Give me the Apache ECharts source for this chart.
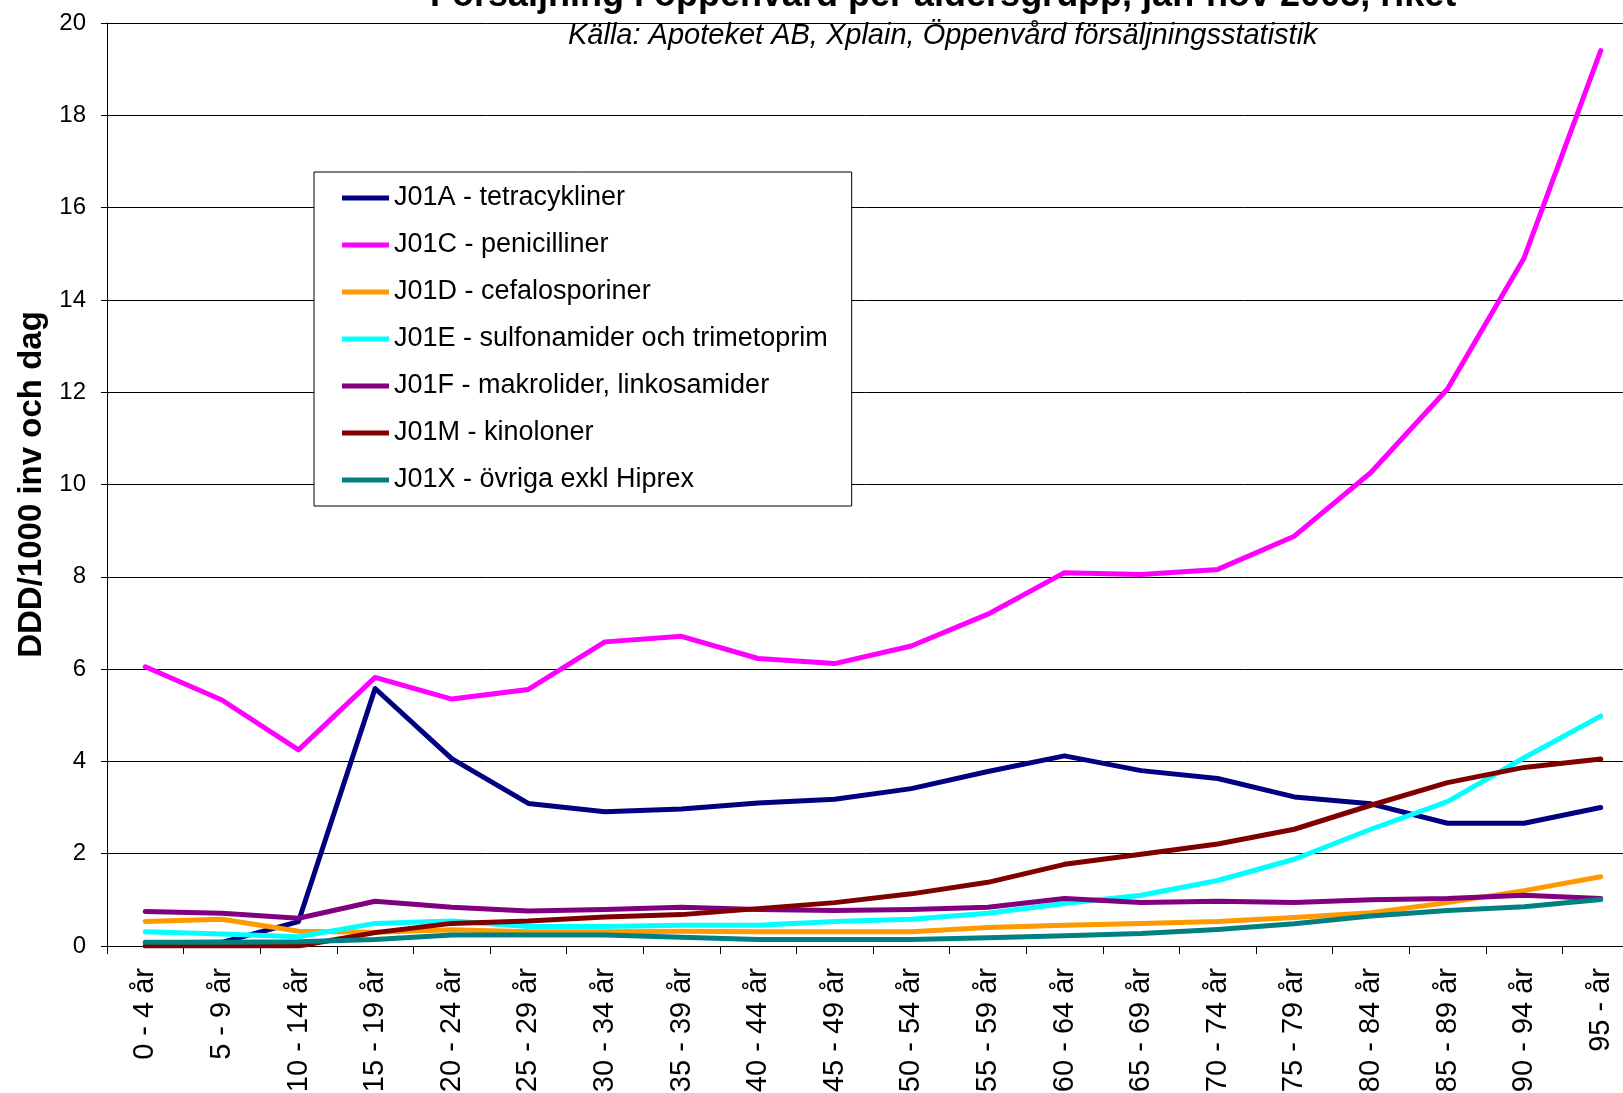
<!DOCTYPE html>
<html>
<head>
<meta charset="utf-8">
<script src="https://cdn.jsdelivr.net/npm/echarts@6/dist/echarts.min.js"></script>
<style>
  html, body { margin: 0; padding: 0; background: #fff; }
  #chart { width: 1623px; height: 1093px; }
</style>
</head>
<body>
<div id="chart"></div>
<script>
// age groups
const ageGroups = [
  '0 - 4 år', '5 - 9 år', '10 - 14 år', '15 - 19 år', '20 - 24 år',
  '25 - 29 år', '30 - 34 år', '35 - 39 år', '40 - 44 år', '45 - 49 år',
  '50 - 54 år', '55 - 59 år', '60 - 64 år', '65 - 69 år', '70 - 74 år',
  '75 - 79 år', '80 - 84 år', '85 - 89 år', '90 - 94 år', '95 - år'
]

const j01a = [0.07, 0.08, 0.53, 5.58, 4.06, 3.09, 2.91, 2.97, 3.10, 3.18, 3.41, 3.78, 4.12, 3.80, 3.63, 3.23, 3.08, 2.66, 2.66, 3.00]
const j01c = [6.05, 5.33, 4.25, 5.82, 5.35, 5.56, 6.59, 6.71, 6.23, 6.12, 6.50, 7.19, 8.09, 8.05, 8.16, 8.88, 10.26, 12.07, 14.91, 19.40]
const j01d = [0.53, 0.58, 0.32, 0.30, 0.35, 0.31, 0.31, 0.32, 0.31, 0.31, 0.31, 0.40, 0.45, 0.49, 0.53, 0.62, 0.72, 0.94, 1.20, 1.50]
const j01e = [0.31, 0.26, 0.20, 0.49, 0.54, 0.42, 0.42, 0.45, 0.45, 0.53, 0.58, 0.71, 0.92, 1.10, 1.42, 1.88, 2.53, 3.13, 4.08, 4.98]
const j01f = [0.75, 0.71, 0.60, 0.97, 0.84, 0.76, 0.79, 0.84, 0.79, 0.77, 0.79, 0.84, 1.03, 0.94, 0.97, 0.94, 1.00, 1.03, 1.10, 1.03]
const j01m = [0.00, 0.00, 0.00, 0.29, 0.49, 0.54, 0.63, 0.68, 0.81, 0.94, 1.13, 1.38, 1.77, 1.99, 2.21, 2.53, 3.05, 3.54, 3.87, 4.05]
const j01x = [0.08, 0.08, 0.09, 0.14, 0.24, 0.24, 0.24, 0.19, 0.14, 0.14, 0.14, 0.18, 0.22, 0.27, 0.36, 0.48, 0.65, 0.77, 0.85, 1.01]

const seriesNames = [
  'J01A - tetracykliner',
  'J01C - penicilliner',
  'J01D - cefalosporiner',
  'J01E - sulfonamider och trimetoprim',
  'J01F - makrolider, linkosamider',
  'J01M - kinoloner',
  'J01X - övriga exkl Hiprex'
]
const seriesData = [j01a, j01c, j01d, j01e, j01f, j01m, j01x]
const seriesColors = ['#000080', '#ff00ff', '#ff9900', '#00ffff', '#800080', '#800000', '#008080']

const font = 'Liberation Sans, Arial, sans-serif'

const chart = echarts.init(document.getElementById('chart'))

const option = {
  backgroundColor: '#fff',
  animation: false,
  title: [
    {
      text: 'Försäljning i öppenvård per åldersgrupp, jan-nov 2005, riket',
      left: 430,
      top: -22,
      padding: 0,
      textStyle: { fontFamily: font, fontSize: 36, fontWeight: 'bold', color: '#000' }
    },
    {
      text: 'Källa: Apoteket AB, Xplain, Öppenvård försäljningsstatistik',
      left: 568,
      top: 21,
      padding: 0,
      textStyle: { fontFamily: font, fontSize: 29, fontStyle: 'italic', fontWeight: 'normal', color: '#000' }
    }
  ],
  legend: {
    orient: 'vertical',
    left: 314,
    top: 172,
    padding: [11, 24, 11, 28],
    backgroundColor: '#fff',
    borderColor: '#000',
    borderWidth: 1,
    icon: 'rect',
    itemWidth: 47,
    itemHeight: 5,
    itemGap: 17,
    textStyle: { fontFamily: font, fontSize: 27, lineHeight: 30, color: '#000' },
    data: seriesNames
  },
  grid: {
    left: 107,
    top: 23,
    width: 1532,
    height: 923,
    containLabel: false,
    outerBoundsMode: 'none'
  },
  xAxis: {
    type: 'category',
    data: ageGroups,
    boundaryGap: true,
    axisLine: { lineStyle: { color: '#000', width: 1 } },
    axisTick: { show: true, length: 8, lineStyle: { color: '#000' } },
    axisLabel: {
      rotate: 90,
      margin: 22,
      interval: 0,
      fontFamily: font,
      fontSize: 29,
      color: '#000'
    }
  },
  yAxis: {
    type: 'value',
    min: 0,
    max: 20,
    interval: 2,
    name: 'DDD/1000 inv och dag',
    nameLocation: 'middle',
    nameRotate: 90,
    nameGap: 59,
    nameTextStyle: { fontFamily: font, fontSize: 33, fontWeight: 'bold', color: '#000' },
    axisLine: { show: true, lineStyle: { color: '#000', width: 1 } },
    axisTick: { show: true, length: 6, lineStyle: { color: '#000' } },
    axisLabel: { margin: 21, fontFamily: font, fontSize: 24, color: '#000' },
    splitLine: { show: true, lineStyle: { color: '#000', width: 1 } }
  },
  series: seriesNames.map((name, i) => ({
    name: name,
    type: 'line',
    data: seriesData[i],
    showSymbol: false,
    smooth: false,
    itemStyle: { color: seriesColors[i] },
    lineStyle: { color: seriesColors[i], width: 5, cap: 'round', join: 'round' }
  }))
}

chart.setOption(option)
</script>
</body>
</html>
